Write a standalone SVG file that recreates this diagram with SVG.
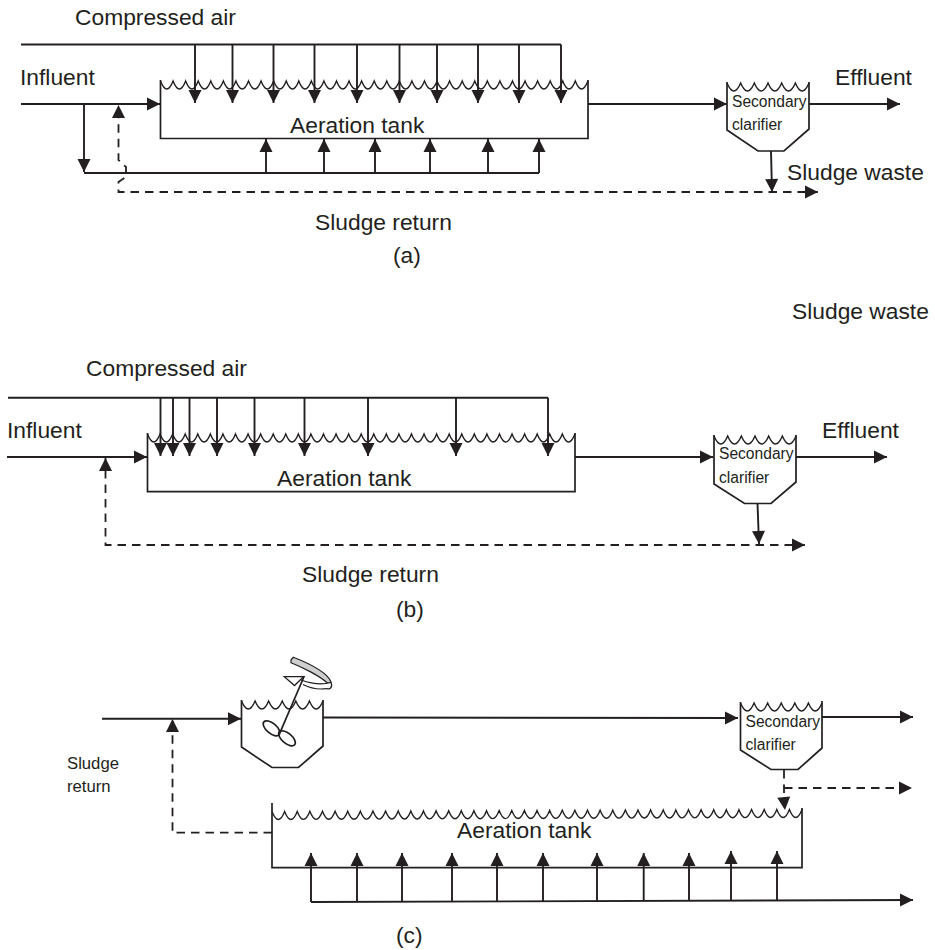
<svg xmlns="http://www.w3.org/2000/svg" width="935" height="950" viewBox="0 0 935 950">
<style>
text{font-family:"Liberation Sans",Arial,sans-serif;fill:#231f20}
.l{font-size:22.8px}.s{font-size:15.6px}.r{font-size:16.7px}
.o,.c,.d,.w{fill:none;stroke:#231f20;stroke-width:1.7}
.c{stroke-width:1.9}
.d{stroke-width:1.8;stroke-dasharray:8.5 6}
.w{stroke-width:1.4}
.a{marker-end:url(#h)}
</style>
<defs>
<marker id="h" markerUnits="userSpaceOnUse" markerWidth="13" markerHeight="14" refX="13" refY="7" orient="auto" overflow="visible"><path d="M0 0.500L13 7L0 13.500z" fill="#231f20"/></marker>
</defs>
<rect width="935" height="950" fill="#fff"/>
<g id="connectors">
<g id="connectors-a">
<path class="c" d="M21 44.500H561"/>
<path class="c a" d="M195 44.500V103"/><path class="c a" d="M232.500 44.500V103"/><path class="c a" d="M273.500 44.500V103"/><path class="c a" d="M314.500 44.500V103"/><path class="c a" d="M357 44.500V103"/><path class="c a" d="M399.500 44.500V103"/><path class="c a" d="M437 44.500V103"/><path class="c a" d="M478 44.500V103"/><path class="c a" d="M519 44.500V103"/><path class="c a" d="M561 44.500V103"/>
<path class="c a" d="M21 104H160"/>
<path class="c a" d="M84 104V172"/>
<path class="c" d="M84 173H539"/>
<path class="c a" d="M266 173V139"/><path class="c a" d="M324 173V139"/><path class="c a" d="M375 173V139"/><path class="c a" d="M430 173V139"/><path class="c a" d="M488 173V139"/><path class="c a" d="M539 173V139"/>
<path class="d a" d="M806 192H118.500V182L126 177V167L118.500 160V105"/>
<path class="c a" d="M804 192H818"/>
<path class="c a" d="M588 104H727"/>
<path class="c a" d="M809 104H900"/>
<path class="c a" d="M771 151L772 192"/>
</g>
<g id="connectors-b">
<path class="c" d="M8 397.700H548"/>
<path class="c a" d="M160.500 397.700V456"/><path class="c a" d="M173 397.700V456"/><path class="c a" d="M189.500 397.700V456"/><path class="c a" d="M217 397.700V456"/><path class="c a" d="M254.500 397.700V456"/><path class="c a" d="M304.500 397.700V456"/><path class="c a" d="M368 397.700V456"/><path class="c a" d="M456 397.700V456"/><path class="c a" d="M548 397.700V456"/>
<path class="c a" d="M7 457H147"/>
<path class="d a" d="M793 545H105.500V458"/>
<path class="c a" d="M791 545H805"/>
<path class="c a" d="M575 457H713"/>
<path class="c a" d="M796 457H887"/>
<path class="c a" d="M757.500 503.500L759 544"/>
</g>
<g id="connectors-c">
<path class="c a" d="M102 718.700H241"/>
<path class="d a" d="M272 832.700H172.500V719"/>
<path class="c a" d="M323 717.500L738 718"/>
<path class="c a" d="M822 717H913"/>
<path class="d a" d="M784 770V800L785 810"/>
<path class="d a" d="M784 788H912"/>
<path class="c a" d="M311 902L913 900"/>
<path class="c a" d="M311 902V853"/><path class="c a" d="M357 902V853"/><path class="c a" d="M402 902V853"/><path class="c a" d="M452 902V853"/><path class="c a" d="M497 902V853"/><path class="c a" d="M543 902V853"/><path class="c a" d="M597 901V853"/><path class="c a" d="M643.700 901V853"/><path class="c a" d="M689 901V853"/><path class="c a" d="M731 900V851"/><path class="c a" d="M777 900V851"/>
</g>
</g>
<g id="tank-a">
<path class="o" d="M160.500 80V138.500H588V80"/>
<path class="w" d="M160.500 81q6.300 16 12.570 0 6.300 16 12.570 0 6.300 16 12.570 0 6.300 16 12.570 0 6.300 16 12.570 0 6.300 16 12.570 0 6.300 16 12.570 0 6.300 16 12.570 0 6.300 16 12.570 0 6.300 16 12.570 0 6.300 16 12.570 0 6.300 16 12.570 0 6.300 16 12.570 0 6.300 16 12.570 0 6.300 16 12.570 0 6.300 16 12.570 0 6.300 16 12.570 0 6.300 16 12.570 0 6.300 16 12.570 0 6.300 16 12.570 0 6.300 16 12.570 0 6.300 16 12.570 0 6.300 16 12.570 0 6.300 16 12.570 0 6.300 16 12.570 0 6.300 16 12.570 0 6.300 16 12.570 0 6.300 16 12.570 0 6.300 16 12.570 0 6.300 16 12.570 0 6.300 16 12.570 0 6.300 16 12.570 0 6.300 16 12.570 0 6.300 16 12.570 0"/>
<text class="l" x="290" y="133">Aeration tank</text>
</g>
<g id="clarifier-a">
<path class="o" d="M727 82V130L758 151H784L809 129V82"/>
<path class="w" d="M727 83q6.800 16 13.670 0 6.800 16 13.670 0 6.800 16 13.670 0 6.800 16 13.670 0 6.800 16 13.670 0 6.800 16 13.670 0"/>
<text class="s" x="732" y="107">Secondary</text>
<text class="s" x="732" y="130">clarifier</text>
</g>
<g id="tank-b">
<path class="o" d="M147.500 433V491.700H575V433"/>
<path class="w" d="M147.500 434q6.300 16 12.570 0 6.300 16 12.570 0 6.300 16 12.570 0 6.300 16 12.570 0 6.300 16 12.570 0 6.300 16 12.570 0 6.300 16 12.570 0 6.300 16 12.570 0 6.300 16 12.570 0 6.300 16 12.570 0 6.300 16 12.570 0 6.300 16 12.570 0 6.300 16 12.570 0 6.300 16 12.570 0 6.300 16 12.570 0 6.300 16 12.570 0 6.300 16 12.570 0 6.300 16 12.570 0 6.300 16 12.570 0 6.300 16 12.570 0 6.300 16 12.570 0 6.300 16 12.570 0 6.300 16 12.570 0 6.300 16 12.570 0 6.300 16 12.570 0 6.300 16 12.570 0 6.300 16 12.570 0 6.300 16 12.570 0 6.300 16 12.570 0 6.300 16 12.570 0 6.300 16 12.570 0 6.300 16 12.570 0 6.300 16 12.570 0 6.300 16 12.570 0"/>
<text class="l" x="277" y="486">Aeration tank</text>
</g>
<g id="clarifier-b">
<path class="o" d="M714 435V484L744.500 503.500H771L796 482V435"/>
<path class="w" d="M714 436q6.800 16 13.670 0 6.800 16 13.670 0 6.800 16 13.670 0 6.800 16 13.670 0 6.800 16 13.670 0 6.800 16 13.670 0"/>
<text class="s" x="719" y="459">Secondary</text>
<text class="s" x="719" y="483">clarifier</text>
</g>
<g id="mixer-tank">
<path class="o" d="M241.500 700V747L272 767.500H298.500L323 746V700"/>
<path class="w" d="M241.500 701q6.800 16 13.580 0 6.800 16 13.580 0 6.800 16 13.580 0 6.800 16 13.580 0 6.800 16 13.580 0 6.800 16 13.580 0"/>
<path d="M291 660L293.300 657.300C308 663 327 672 331 682L328 683.500C320 676 302 667 291 662.700Z" fill="#cfcfcf" stroke="#231f20" stroke-width="1.200"/>
<path d="M301 680C312 684 322 685 331 682.500C333 687 330 690 326.700 688.500C318 690 310 688 303 684.500" fill="#fff" stroke="#231f20" stroke-width="1.200"/>
<path d="M284.300 676.700H303.500L294.500 685.500Z" fill="#fff" stroke="#231f20" stroke-width="1.300"/>
<path class="o" d="M304.300 676L280 732.700"/>
<ellipse class="o" cx="271.500" cy="728.300" rx="10" ry="5" transform="rotate(40 271.500 728.300)"/>
<ellipse class="o" cx="287" cy="738.300" rx="10" ry="5" transform="rotate(40 287 738.300)"/>
</g>
<g id="clarifier-c">
<path class="o" d="M740.500 702V750L771 769.500H798L822 748V701"/>
<path class="w" d="M740.500 703q6.800 16 13.580 0 6.800 16 13.580 0 6.800 16 13.580 0 6.800 16 13.580 0 6.800 16 13.580 0 6.800 16 13.580 0"/>
<text class="s" x="745.500" y="727">Secondary</text>
<text class="s" x="745.500" y="750">clarifier</text>
</g>
<g id="tank-c">
<path class="o" d="M272 803V867.700H802V808"/>
<path class="w" d="M272 811.500q6.300 16 12.620-.05 6.300 16 12.620-.05 6.300 16 12.620-.05 6.300 16 12.620-.05 6.300 16 12.620-.05 6.300 16 12.620-.05 6.300 16 12.620-.05 6.300 16 12.620-.05 6.300 16 12.620-.05 6.300 16 12.620-.05 6.300 16 12.620-.05 6.300 16 12.620-.05 6.300 16 12.620-.05 6.300 16 12.620-.05 6.300 16 12.620-.05 6.300 16 12.620-.05 6.300 16 12.620-.05 6.300 16 12.620-.05 6.300 16 12.620-.05 6.300 16 12.620-.05 6.300 16 12.620-.05 6.300 16 12.620-.05 6.300 16 12.620-.05 6.300 16 12.620-.05 6.300 16 12.620-.05 6.300 16 12.620-.05 6.300 16 12.620-.05 6.300 16 12.620-.05 6.300 16 12.620-.05 6.300 16 12.620-.05 6.300 16 12.620-.05 6.300 16 12.620-.05 6.300 16 12.620-.05 6.300 16 12.620-.05 6.300 16 12.620-.05 6.300 16 12.620-.05 6.300 16 12.620-.05 6.300 16 12.620-.05 6.300 16 12.620-.05 6.300 16 12.620-.05 6.300 16 12.620-.05 6.300 16 12.620-.05"/>
<text class="l" x="457" y="838">Aeration tank</text>
</g>
<g id="labels">
<text class="l" x="75" y="25">Compressed air</text>
<text class="l" x="20" y="85">Influent</text>
<text class="l" x="835" y="85">Effluent</text>
<text class="l" x="787" y="180">Sludge waste</text>
<text class="l" x="315" y="230">Sludge return</text>
<text class="l" x="393" y="263">(a)</text>
<text class="l" x="792" y="318.500">Sludge waste</text>
<text class="l" x="86" y="376">Compressed air</text>
<text class="l" x="7" y="438">Influent</text>
<text class="l" x="822" y="438">Effluent</text>
<text class="l" x="302" y="582">Sludge return</text>
<text class="l" x="396" y="617">(b)</text>
<text class="r" x="67" y="769">Sludge</text>
<text class="r" x="67" y="792">return</text>
<text class="l" x="396" y="943">(c)</text>
</g>
</svg>
